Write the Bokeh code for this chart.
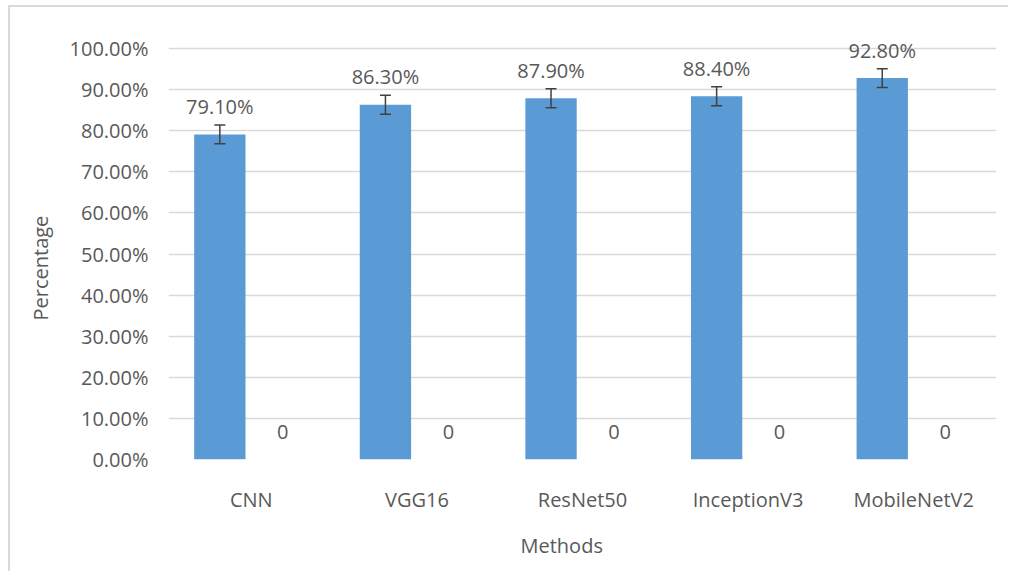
from bokeh.plotting import figure
from bokeh.models import (ColumnDataSource, FactorRange, NumeralTickFormatter, Whisker,
                          FixedTicker, LabelSet, Range1d, Title)
from bokeh.transform import dodge
from bokeh.core.properties import value
from bokeh.embed import file_html
from bokeh.resources import INLINE

methods = ["CNN", "VGG16", "ResNet50", "InceptionV3", "MobileNetV2"]
accuracy = [0.791, 0.863, 0.879, 0.884, 0.928]
accuracy_labels = ["79.10%", "86.30%", "87.90%", "88.40%", "92.80%"]
error = [0.023, 0.023, 0.023, 0.023, 0.023]
second = [0, 0, 0, 0, 0]
second_labels = ["0", "0", "0", "0", "0"]
y_ticks = [0.0, 0.1, 0.2, 0.3, 0.4, 0.5, 0.6, 0.7, 0.8, 0.9, 1.0]

FONT = "Open Sans"
TXT = "#595959"
GRID = "#d9d9d9"

src = ColumnDataSource(dict(
    m=methods, acc=accuracy, accl=accuracy_labels,
    up=[a + e for a, e in zip(accuracy, error)],
    lo=[a - e for a, e in zip(accuracy, error)],
    sec=second, secl=second_labels,
))

p = figure(x_range=FactorRange(*methods), y_range=Range1d(0, 436 / 411),
           frame_width=828, frame_height=436,
           min_border_left=158, min_border_right=14, min_border_top=16, min_border_bottom=110,
           output_backend="svg", toolbar_location=None)
p.styles = {"box-shadow": "-2px -2px 0px 0px #d9d9d9",
            "margin-left": "10px", "margin-top": "7px"}
p.outline_line_color = None
p.background_fill_color = "white"

p.vbar(x=dodge("m", -0.19, range=p.x_range), top="acc", width=0.31, source=src,
       fill_color="#5b9bd5", line_color=None)
p.vbar(x=dodge("m", 0.19, range=p.x_range), top="sec", width=0.31, source=src,
       fill_color="#ed7d31", line_color=None)

w = Whisker(base=dodge("m", -0.19, range=p.x_range), upper="up", lower="lo", source=src,
            line_color="#404040", line_width=1.5, level="overlay")
for h in (w.upper_head, w.lower_head):
    h.size = 11
    h.line_color = "#404040"
    h.line_width = 1.5
p.add_layout(w)

p.add_layout(LabelSet(x=dodge("m", -0.19, range=p.x_range), y="acc", text="accl", source=src,
                      text_font=value(FONT), text_font_size="20px", text_color=TXT,
                      text_align="center", text_baseline="middle", y_offset=28))
p.add_layout(LabelSet(x=dodge("m", 0.19, range=p.x_range), y="sec", text="secl", source=src,
                      text_font=value(FONT), text_font_size="20px", text_color=TXT,
                      text_align="center", text_baseline="middle", y_offset=28))

p.yaxis.ticker = FixedTicker(ticks=y_ticks)
p.yaxis.formatter = NumeralTickFormatter(format="0.00%")
p.ygrid.ticker = FixedTicker(ticks=y_ticks)
p.ygrid.grid_line_color = GRID
p.ygrid.grid_line_width = 1.5
p.xgrid.grid_line_color = None

for ax in (p.xaxis, p.yaxis):
    ax.axis_line_color = None
    ax.major_tick_line_color = None
    ax.minor_tick_line_color = None
    ax.major_label_text_font = FONT
    ax.major_label_text_font_size = "20px"
    ax.major_label_text_color = TXT

p.yaxis.major_label_standoff = 14
p.xaxis.major_label_standoff = 20

p.add_layout(Title(text="Percentage", align="left", offset=139, standoff=26,
                   text_font=FONT, text_font_size="20px", text_color=TXT,
                   text_font_style="normal"), "left")
p.add_layout(Title(text="Methods", align="left", offset=352, standoff=29,
                   text_font=FONT, text_font_size="20px", text_color=TXT,
                   text_font_style="normal"), "below")

open("out.html", "w").write(file_html(p, INLINE))
